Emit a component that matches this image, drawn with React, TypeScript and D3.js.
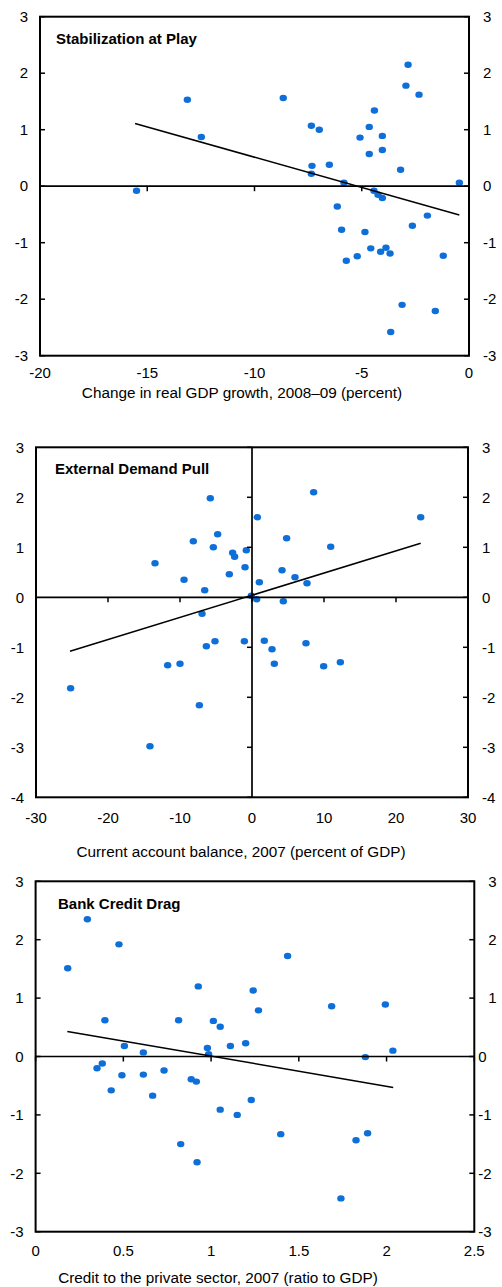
import React from "react";
import * as d3 from "d3";

// Panel 1: change in real GDP growth vs. outcome
const stabX = [-15.5, -13.13, -12.48, -8.66, -7.35, -6.98, -7.32, -7.35, -6.51, -5.83, -5.08, -4.65, -4.41, -4.04, -4.65, -4.04, -3.19, -2.84, -2.94, -2.33, -0.45, -4.43, -4.24, -4.04, -6.14, -5.94, -4.85, -5.72, -5.21, -4.58, -4.12, -3.87, -3.68, -2.64, -1.94, -1.2, -3.12, -1.57, -3.65];
const stabY = [-0.08, 1.53, 0.87, 1.56, 1.07, 1.0, 0.36, 0.22, 0.38, 0.06, 0.86, 1.05, 1.34, 0.89, 0.57, 0.64, 0.29, 2.15, 1.78, 1.62, 0.06, -0.08, -0.15, -0.21, -0.36, -0.77, -0.81, -1.32, -1.24, -1.1, -1.16, -1.09, -1.19, -0.7, -0.52, -1.23, -2.1, -2.21, -2.58];
const stabTrendX = [-15.57, -0.45];
const stabTrendY = [1.11, -0.51];
const stabXTicks = [-20, -15, -10, -5, 0];
const stabYTicks = [-3, -2, -1, 0, 1, 2, 3];

// Panel 2: current account balance vs. outcome
const demandX = [-5.79, 0.74, -8.15, -4.77, -5.37, -2.69, -2.41, -0.79, -13.47, -9.44, -3.15, -0.97, 1.02, -6.57, -0.09, 0.65, 4.17, -6.94, 8.56, 23.43, 4.81, 10.93, 5.97, 7.64, 4.35, -6.34, -5.14, -1.06, 1.71, 2.78, 3.1, -11.71, -10.0, -25.19, -7.31, -14.17, 7.5, 9.95, 12.27];
const demandY = [1.98, 1.6, 1.12, 1.26, 1.0, 0.89, 0.81, 0.94, 0.68, 0.35, 0.46, 0.6, 0.3, 0.14, 0.03, -0.04, 0.54, -0.33, 2.1, 1.6, 1.18, 1.01, 0.4, 0.28, -0.08, -0.98, -0.88, -0.88, -0.87, -1.04, -1.33, -1.36, -1.33, -1.82, -2.16, -2.98, -0.92, -1.38, -1.3];
const demandTrendX = [-25.28, 23.43];
const demandTrendY = [-1.08, 1.08];
const demandXTicks = [-30, -20, -10, 0, 10, 20, 30];
const demandYTicks = [-4, -3, -2, -1, 0, 1, 2, 3];

// Panel 3: private-sector credit vs. outcome
const creditX = [0.295, 0.475, 0.183, 0.927, 1.24, 1.27, 0.395, 0.815, 1.013, 1.052, 0.506, 0.979, 1.11, 1.197, 1.436, 1.687, 1.993, 0.614, 0.986, 0.35, 0.38, 0.492, 0.614, 0.732, 0.431, 0.667, 0.887, 0.916, 1.052, 1.149, 1.229, 0.827, 0.92, 1.397, 1.826, 1.892, 1.74, 1.879, 2.036];
const creditY = [2.35, 1.92, 1.51, 1.2, 1.13, 0.79, 0.62, 0.62, 0.61, 0.51, 0.18, 0.146, 0.18, 0.226, 1.72, 0.86, 0.89, 0.07, 0.04, -0.2, -0.12, -0.32, -0.31, -0.24, -0.58, -0.67, -0.39, -0.43, -0.91, -1.0, -0.745, -1.5, -1.81, -1.33, -1.435, -1.315, -2.43, -0.01, 0.1];
const creditTrendX = [0.181, 2.038];
const creditTrendY = [0.43, -0.53];
const creditXTicks = [0, 0.5, 1, 1.5, 2, 2.5];
const creditYTicks = [-3, -2, -1, 0, 1, 2, 3];

const FONT = "Arial, 'Liberation Sans', sans-serif";
const DOT = "#0f6fd8";

type PanelProps = {
  title: string;
  xLabel: string;
  xs: number[];
  ys: number[];
  trendX: number[];
  trendY: number[];
  xTicks: number[];
  yTicks: number[];
  left: number;
  right: number;
  top: number;
  bottom: number;
  titleX: number;
  titleY: number;
  xLabelX: number;
  xLabelY: number;
  xTickLabelY: number;
  verticalZero?: boolean;
  rightLabelPad?: (v: number) => number;
  xFormat?: (v: number) => string;
};

function Panel(p: PanelProps) {
  const xDom = d3.extent(p.xTicks) as [number, number];
  const yDom = d3.extent(p.yTicks) as [number, number];
  const x = d3.scaleLinear().domain(xDom).range([p.left, p.right]);
  const y = d3.scaleLinear().domain(yDom).range([p.bottom, p.top]);
  const y0 = y(0);
  const x0 = x(0);
  const tickLen = 5;
  const yAxisX = p.verticalZero ? x0 : p.left;
  const line = d3
    .line<number>()
    .x((_, i) => x(p.trendX[i]))
    .y((d) => y(d));
  const fmt = p.xFormat ?? ((v: number) => String(v));
  const pad = p.rightLabelPad ?? (() => 14);

  return (
    <g>
      {/* dots */}
      {p.xs.map((v, i) => (
        <ellipse key={i} cx={x(v)} cy={y(p.ys[i])} rx={3.7} ry={3.2} fill={DOT} />
      ))}
      {/* trend line */}
      <path d={line(p.trendY) ?? ""} fill="none" stroke="#000" strokeWidth={1.5} />
      {/* horizontal zero axis with ticks */}
      <line x1={p.left} x2={p.right} y1={y0} y2={y0} stroke="#000" strokeWidth={1.7} />
      {p.xTicks.map((t) => (
        <line key={"xt" + t} x1={x(t)} x2={x(t)} y1={y0} y2={y0 + tickLen} stroke="#000" strokeWidth={1.5} />
      ))}
      {p.verticalZero && (
        <line x1={x0} x2={x0} y1={p.top} y2={p.bottom} stroke="#000" strokeWidth={1.7} />
      )}
      {/* y ticks: on the value axis pointing inward / left, and on the right axis pointing left */}
      {p.yTicks.map((t) => (
        <g key={"yt" + t}>
          {p.verticalZero ? (
            <line x1={yAxisX - tickLen} x2={yAxisX} y1={y(t)} y2={y(t)} stroke="#000" strokeWidth={1.5} />
          ) : (
            <line x1={p.left} x2={p.left + tickLen} y1={y(t)} y2={y(t)} stroke="#000" strokeWidth={1.5} />
          )}
          <line x1={p.right - tickLen} x2={p.right} y1={y(t)} y2={y(t)} stroke="#000" strokeWidth={1.5} />
        </g>
      ))}
      {/* frame */}
      <rect x={p.left} y={p.top} width={p.right - p.left} height={p.bottom - p.top} fill="none" stroke="#000" strokeWidth={2} />
      {/* y labels */}
      {p.yTicks.map((t) => (
        <g key={"yl" + t} fontFamily={FONT} fontSize={15} fill="#000">
          <text x={p.left - 12} y={y(t)} dy="0.35em" textAnchor="end">
            {t}
          </text>
          <text x={p.right + pad(t)} y={y(t)} dy="0.35em" textAnchor="start">
            {t}
          </text>
        </g>
      ))}
      {/* x labels */}
      {p.xTicks.map((t) => (
        <text key={"xl" + t} x={x(t)} y={p.xTickLabelY} dy="0.35em" textAnchor="middle" fontFamily={FONT} fontSize={15} fill="#000">
          {fmt(t)}
        </text>
      ))}
      <text x={p.xLabelX} y={p.xLabelY} dy="0.35em" textAnchor="middle" fontFamily={FONT} fontSize={15.3} fill="#000">
        {p.xLabel}
      </text>
      <text x={p.titleX} y={p.titleY} fontFamily={FONT} fontSize={15} fontWeight="bold" fill="#000">
        {p.title}
      </text>
    </g>
  );
}

export default function App() {
  return (
    <svg
      width={502}
      height={1287}
      viewBox="0 0 502 1287"
      style={{ position: "absolute", left: 0, top: 0, background: "#fff" }}
    >
      <rect width={502} height={1287} fill="#fff" />
      <Panel
        title="Stabilization at Play"
        xLabel="Change in real GDP growth, 2008–09 (percent)"
        xs={stabX}
        ys={stabY}
        trendX={stabTrendX}
        trendY={stabTrendY}
        xTicks={stabXTicks}
        yTicks={stabYTicks}
        left={40}
        right={469}
        top={16.7}
        bottom={355.7}
        titleX={56}
        titleY={44}
        xLabelX={242}
        xLabelY={393}
        xTickLabelY={373}
      />
      <Panel
        title="External Demand Pull"
        xLabel="Current account balance, 2007 (percent of GDP)"
        xs={demandX}
        ys={demandY}
        trendX={demandTrendX}
        trendY={demandTrendY}
        xTicks={demandXTicks}
        yTicks={demandYTicks}
        left={36}
        right={468}
        top={447.3}
        bottom={797.3}
        titleX={55}
        titleY={474}
        xLabelX={241}
        xLabelY={852}
        xTickLabelY={818}
        verticalZero
      />
      <Panel
        title="Bank Credit Drag"
        xLabel="Credit to the private sector, 2007 (ratio to GDP)"
        xs={creditX}
        ys={creditY}
        trendX={creditTrendX}
        trendY={creditTrendY}
        xTicks={creditXTicks}
        yTicks={creditYTicks}
        left={35.6}
        right={474.3}
        top={881.3}
        bottom={1231.7}
        titleX={58}
        titleY={909}
        xLabelX={218}
        xLabelY={1278}
        xTickLabelY={1251}
        rightLabelPad={(v) => (v > 0 ? 14 : 4)}
      />
    </svg>
  );
}
